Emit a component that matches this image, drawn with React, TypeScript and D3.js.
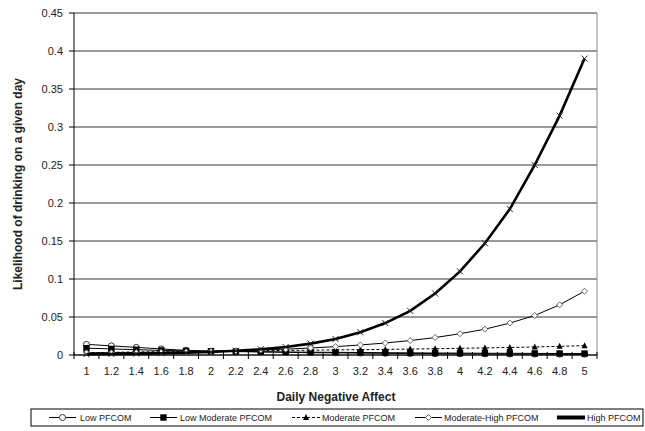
import * as d3 from "d3";

const categories = ["1", "1.2", "1.4", "1.6", "1.8", "2", "2.2", "2.4", "2.6", "2.8", "3", "3.2", "3.4", "3.6", "3.8", "4", "4.2", "4.4", "4.6", "4.8", "5"];
const lowPfcom = [0.014, 0.012, 0.010, 0.008, 0.006, 0.005, 0.0045, 0.004, 0.0035, 0.003, 0.0028, 0.0025, 0.0022, 0.002, 0.0018, 0.0016, 0.0015, 0.0013, 0.0012, 0.0011, 0.001];
const lowModPfcom = [0.009, 0.008, 0.007, 0.006, 0.0055, 0.005, 0.0047, 0.0044, 0.004, 0.0037, 0.0035, 0.0033, 0.003, 0.0028, 0.0026, 0.0025, 0.0023, 0.0022, 0.0021, 0.002, 0.0019];
const modPfcom = [0.003, 0.0035, 0.004, 0.0042, 0.0045, 0.005, 0.0053, 0.0056, 0.006, 0.0063, 0.0067, 0.007, 0.0074, 0.0078, 0.0083, 0.0088, 0.0093, 0.0099, 0.0106, 0.0114, 0.0123];
const modHighPfcom = [0.003, 0.003, 0.0033, 0.0037, 0.0042, 0.0048, 0.0055, 0.0065, 0.0077, 0.0092, 0.011, 0.0132, 0.0158, 0.019, 0.023, 0.028, 0.034, 0.042, 0.052, 0.066, 0.084];
const highPfcom = [0.001, 0.0013, 0.0017, 0.0023, 0.003, 0.004, 0.0055, 0.0075, 0.0105, 0.015, 0.021, 0.03, 0.042, 0.058, 0.081, 0.11, 0.147, 0.192, 0.25, 0.315, 0.39];
const yTicks = [0, 0.05, 0.1, 0.15, 0.2, 0.25, 0.3, 0.35, 0.4, 0.45];

const seriesList = [
  { name: "Low PFCOM", values: lowPfcom, marker: "circle", width: 1, dash: "" },
  { name: "Low Moderate PFCOM", values: lowModPfcom, marker: "square", width: 1, dash: "" },
  { name: "Moderate PFCOM", values: modPfcom, marker: "triangle", width: 1, dash: "3,2" },
  { name: "Moderate-High PFCOM", values: modHighPfcom, marker: "diamond", width: 1, dash: "" },
  { name: "High PFCOM", values: highPfcom, marker: "x", width: 2.6, dash: "" },
];

// legend sample start, sample end, text start
const legendPos = [
  [49, 76, 80],
  [150, 177, 180],
  [292, 320, 322],
  [415, 442, 444],
  [557, 585, 587],
];

function Marker({ type, cx, cy }: { type: string; cx: number; cy: number }) {
  if (type === "circle") return <circle cx={cx} cy={cy} r={3} fill="#fff" stroke="#333" strokeWidth={1} />;
  if (type === "square") return <rect x={cx - 3.2} y={cy - 3.2} width={6.4} height={6.4} fill="#000" />;
  if (type === "triangle") return <path d={`M${cx},${cy - 3.5}L${cx + 3},${cy + 2.5}L${cx - 3},${cy + 2.5}Z`} fill="#000" />;
  if (type === "diamond") return <path d={`M${cx},${cy - 3}L${cx + 3},${cy}L${cx},${cy + 3}L${cx - 3},${cy}Z`} fill="#fff" stroke="#555" strokeWidth={0.9} />;
  return <path d={`M${cx - 3},${cy - 3}L${cx + 3},${cy + 3}M${cx + 3},${cy - 3}L${cx - 3},${cy + 3}`} stroke="#222" strokeWidth={1} />;
}

export default function App() {
  const left = 74, right = 597, top = 13, bottom = 355;
  const x = d3.scaleBand().domain(categories).range([left, right]);
  const y = d3.scaleLinear().domain([0, 0.45]).range([bottom, top]);
  const cx = (c: string) => (x(c) as number) + x.bandwidth() / 2;
  const line = d3.line<number>().x((_, i) => cx(categories[i])).y((d) => y(d));
  const font = "Arial, 'Liberation Sans', sans-serif";
  const ly = 417.5;

  return (
    <svg width={645} height={431} style={{ position: "absolute", left: 0, top: 0, background: "#fff" }} fontFamily={font}>
      {/* gridlines */}
      {yTicks.map((t) => (
        <line key={t} x1={left} x2={right} y1={y(t)} y2={y(t)} stroke="#000" strokeWidth={0.8} />
      ))}
      <line x1={right} x2={right} y1={top} y2={bottom} stroke="#888" strokeWidth={1} />
      {/* y axis */}
      <line x1={left} x2={left} y1={top} y2={bottom} stroke="#000" />
      {yTicks.map((t) => (
        <g key={"yt" + t}>
          <line x1={left - 5} x2={left} y1={y(t)} y2={y(t)} stroke="#000" />
          <text x={63} y={y(t)} dy="0.35em" textAnchor="end" fontSize={11} fill="#222">{t}</text>
        </g>
      ))}
      {/* x axis */}
      <line x1={left} x2={right} y1={bottom} y2={bottom} stroke="#000" strokeWidth={1.2} />
      {categories.map((c, i) => (
        <g key={"xt" + c}>
          <line x1={(x(c) as number)} x2={(x(c) as number)} y1={bottom - 3} y2={bottom + 4} stroke="#000" />
          {i === categories.length - 1 && <line x1={right} x2={right} y1={bottom - 3} y2={bottom + 4} stroke="#000" />}
          <text x={cx(c)} y={375} textAnchor="middle" fontSize={11} fill="#222">{c}</text>
        </g>
      ))}
      {/* series */}
      {seriesList.map((s) => (
        <g key={s.name}>
          <path d={line(s.values) || ""} fill="none" stroke="#000" strokeWidth={s.width} strokeDasharray={s.dash} />
          {s.values.map((v, i) => (
            <Marker key={i} type={s.marker} cx={cx(categories[i])} cy={y(v)} />
          ))}
        </g>
      ))}
      {/* titles */}
      <text x={336} y={401} textAnchor="middle" fontSize={12} fontWeight="bold" fill="#222">Daily Negative Affect</text>
      <text transform={`translate(22,${(top + bottom) / 2}) rotate(-90)`} textAnchor="middle" fontSize={12} fontWeight="bold" fill="#222">Likelihood of drinking on a given day</text>
      {/* legend */}
      <rect x={31} y={409} width={612} height={17} fill="#fff" stroke="#000" strokeWidth={1} />
      {seriesList.map((s, i) => {
        const [a, b, t] = legendPos[i];
        return (
          <g key={"lg" + s.name}>
            <line x1={a} x2={b} y1={ly} y2={ly} stroke="#000" strokeWidth={s.marker === "x" ? 4 : s.width} strokeDasharray={s.dash} />
            {s.marker !== "x" && <Marker type={s.marker} cx={(a + b) / 2} cy={ly} />}
            <text x={t} y={ly} dy="0.35em" fontSize={9} fill="#222">{s.name}</text>
          </g>
        );
      })}
    </svg>
  );
}
